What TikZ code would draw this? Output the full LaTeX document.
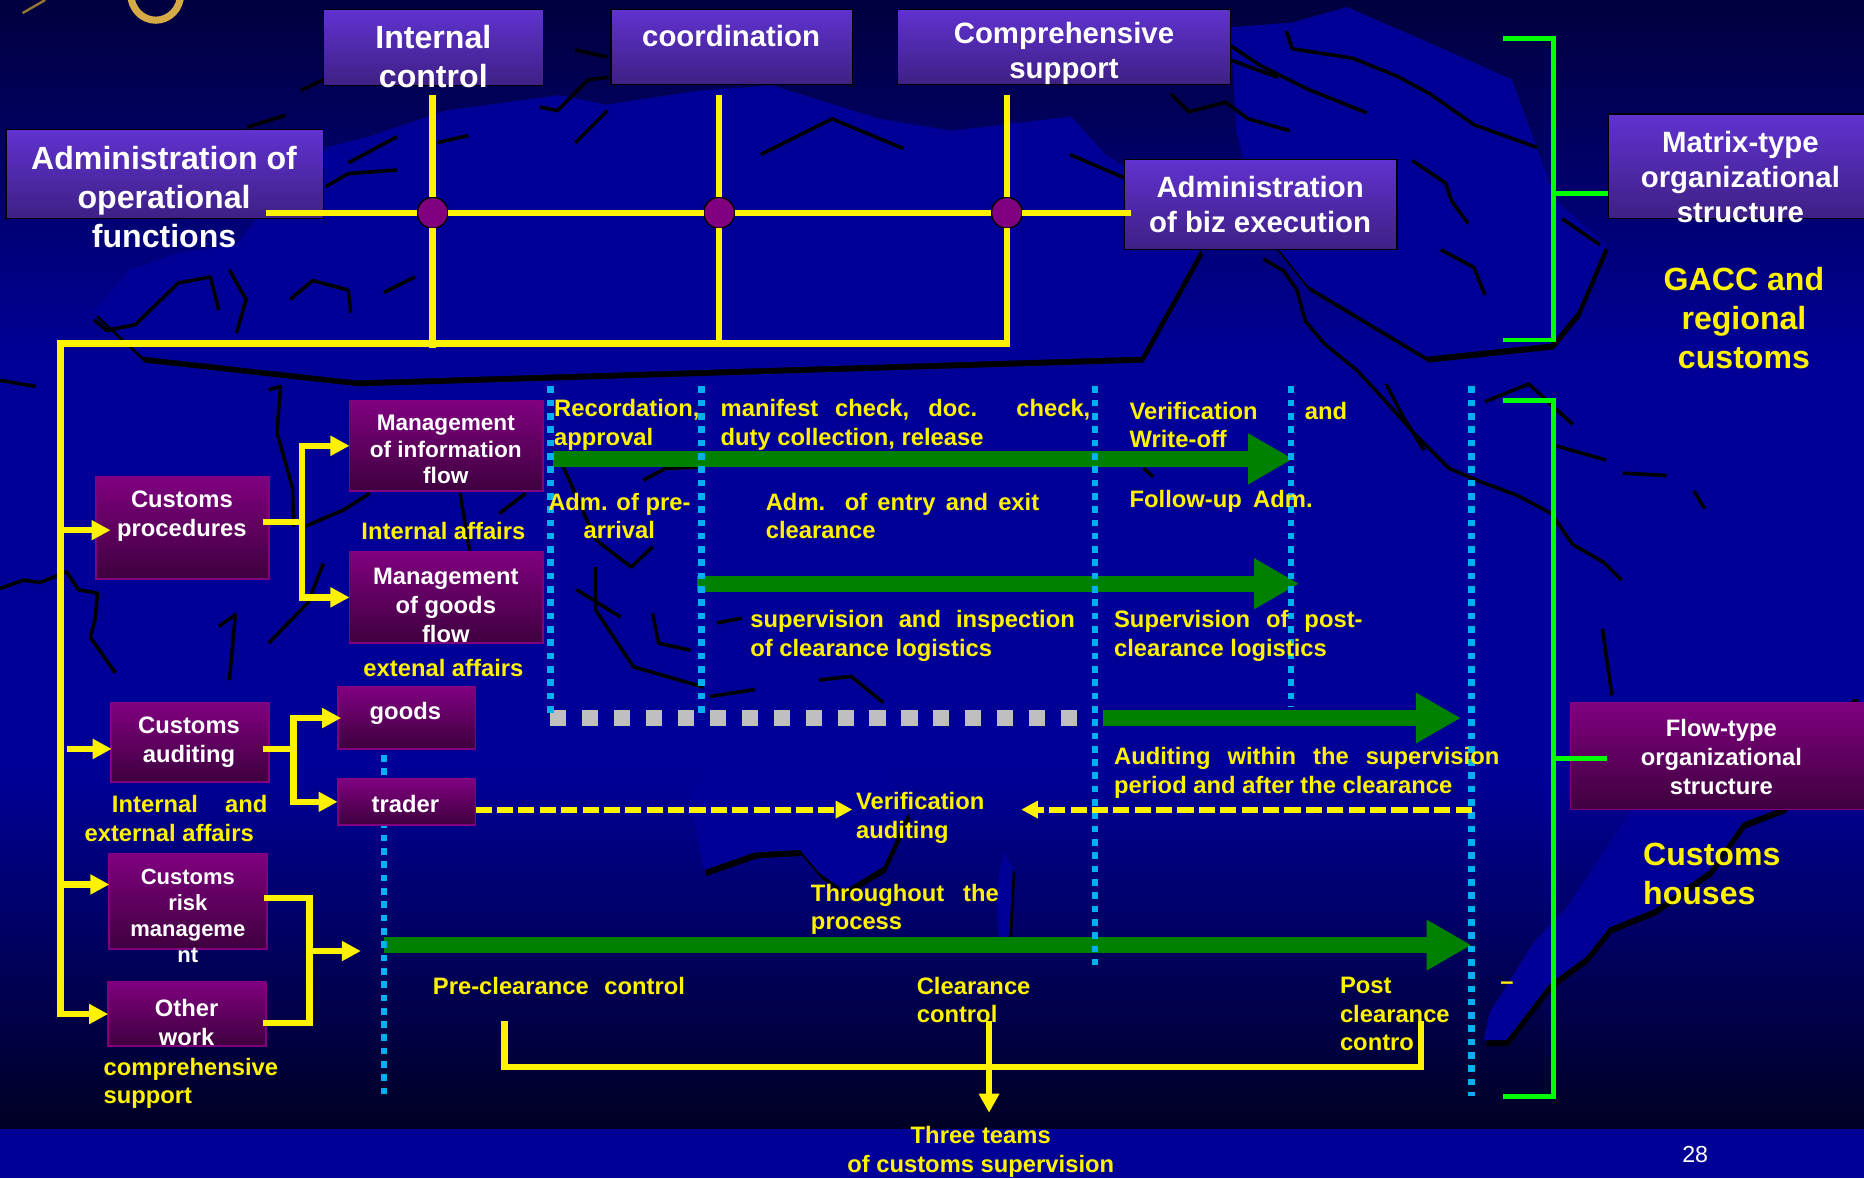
\documentclass[tikz,border=0pt]{standalone}
\usepackage{fontspec}
\setmainfont{Liberation Sans}
\usepackage{tikz}
\usetikzlibrary{arrows.meta}

\definecolor{bgdark}{RGB}{0,0,62}
\definecolor{bgmid}{RGB}{0,0,150}
\definecolor{bgfoot}{RGB}{0,0,36}
\definecolor{bluetop}{RGB}{96,50,208}
\definecolor{bluebot}{RGB}{62,32,132}
\definecolor{purptop}{RGB}{128,0,128}
\definecolor{purpbot}{RGB}{62,0,62}
\definecolor{dotblue}{RGB}{0,176,240}
\definecolor{ringgold}{RGB}{214,170,70}
\definecolor{darkgreen}{RGB}{0,128,0}
\definecolor{lightgreen}{RGB}{0,255,0}

\newcommand{\landshape}[1]{\fill[black,shift={(2,5)}] #1; \fill[bgmid] #1;}

\begin{document}
\begin{tikzpicture}[x=1pt,y=-1pt,
    boxblue/.style={draw=black,line width=1.2pt,top color=bluetop,bottom color=bluebot,inner sep=0pt,outer sep=0pt},
    boxpurp/.style={draw=purptop,line width=1.5pt,top color=purptop,bottom color=purpbot,inner sep=0pt,outer sep=0pt},
    junction/.style={circle,draw=black,line width=1.2pt,fill=purptop,minimum size=26pt,inner sep=0pt,outer sep=0pt},
    yline/.style={draw=yellow,line width=5.5pt},
    yarrow/.style={yline,-{Triangle[length=16pt,width=16pt]}},
    ydash/.style={draw=yellow,line width=5pt,dash pattern=on 13.5pt off 4.5pt,-{Triangle[length=14pt,width=14pt]}},
    garrow/.style={draw=darkgreen,line width=13.5pt,-{Triangle[length=38pt,width=40pt]}},
    bluedots/.style={draw=dotblue,line width=5.5pt,dash pattern=on 5.6pt off 5.6pt},
    greydash/.style={draw=black!25,line width=14pt,dash pattern=on 13.5pt off 13.4pt},
    gline/.style={draw=lightgreen,line width=4.2pt},
    coast/.style={draw=black,line width=3pt,line join=round},
    wbig/.style={text=white,align=center,inner sep=0pt,font=\fontsize{27}{32.7}\selectfont\bfseries},
    wmid/.style={text=white,align=center,inner sep=0pt,font=\fontsize{24.7}{29.3}\selectfont\bfseries},
    wsmall/.style={text=white,align=center,inner sep=0pt,font=\fontsize{20}{24.3}\selectfont\bfseries},
    ybig/.style={text=yellow,inner sep=0pt,font=\fontsize{27}{32.5}\selectfont\bfseries},
    ysmall/.style={text=yellow,align=left,inner sep=0pt,font=\fontsize{20}{24}\selectfont\bfseries}]
    \useasboundingbox (0,0) rectangle (1568,991);

    % background
    \shade[top color=bgdark,bottom color=bgmid] (0,0) rectangle (1568,300);
    \fill[bgmid] (0,300) rectangle (1568,650);
    \shade[top color=bgmid,bottom color=bgfoot] (0,650) rectangle (1568,950);
    \fill[bgmid] (0,950) rectangle (1568,991);

    % map
    \landshape{(79,262) -- (109,227) -- (150,213) -- (200,205) -- (240,150) -- (270,125) -- (310,115) -- (375,93) -- (470,80) -- (510,88) -- (589,76) -- (650,72) -- (740,100) -- (800,110) -- (901,98) -- (930,130) -- (990,170) -- (1010,210) -- (960,300) -- (300,320) -- (120,300) -- cycle}
    \landshape{(1035,23) -- (1087,19) -- (1133,6) -- (1200,35) -- (1272,67) -- (1293,124) -- (1310,170) -- (1351,206) -- (1327,262) -- (1305,289) -- (1200,300) -- (1100,240) -- (1060,190) -- (1040,110) -- cycle}
    \landshape{(624,611) -- (710,611) -- (753,656) -- (764,684) -- (743,729) -- (710,749) -- (689,734) -- (673,715) -- (635,717) -- (592,732) -- (579,664) -- cycle}
    \landshape{(844,717) -- (852,730) -- (849,788) -- (840,790) -- (838,750) -- cycle}
    \landshape{(1349,555) -- (1357,583) -- (1562,583) -- (1500,679) -- (1466,692) -- (1438,732) -- (1391,765) -- (1354,780) -- (1334,805) -- (1304,827) -- (1267,875) -- (1248,875) -- (1253,852) -- (1290,793) -- (1318,763) -- (1346,721) -- (1374,679) -- cycle}

    % coast lines
    \draw[coast] (1063,218) -- (1080,228) -- (1091,244) -- (1098,270) -- (1114,289) -- (1142,312) -- (1166,338) -- (1190,365) -- (1219,394) -- (1245,405) -- (1277,417) -- (1305,432) -- (1323,458) -- (1349,473) -- (1364,488);
    \draw[coast] (1166,323) -- (1180,350) -- (1198,379);
    \draw[coast] (1082,26) -- (1087,41) -- (1138,49) -- (1175,64) -- (1203,79) -- (1240,105) -- (1293,124);
    \draw[coast] (985,79) -- (1000,94) -- (1031,86) -- (1050,100) -- (1085,110);
    \draw[coast] (1188,135) -- (1216,154) -- (1221,169) -- (1235,188);
    \draw[coast] (1212,210) -- (1240,225) -- (1249,248);
    \draw[coast] (1314,184) -- (1346,206);
    \draw[coast] (1030,35) -- (1060,55) -- (1100,75) -- (1150,95);
    \draw[coast] (0,495) -- (20,488) -- (34,490) -- (56,481) -- (66,496) -- (82,499) -- (80,521) -- (76,536) -- (97,566);
    \draw[coast] (226,328) -- (236,325) -- (233,364) -- (246,410) -- (247,443);
    \draw[coast] (256,443) -- (289,429) -- (311,415);
    \draw[coast] (387,415) -- (395,463);
    \draw[coast] (420,432) -- (442,415);
    \draw[coast] (184,527) -- (198,517) -- (193,572);
    \draw[coast] (226,541) -- (259,507) -- (272,474);
    \draw[coast] (501,477) -- (501,513) -- (533,561) -- (592,578);
    \draw[coast] (485,496) -- (522,519);
    \draw[coast] (474,393) -- (501,454) -- (531,477) -- (549,460);
    \draw[coast] (541,404) -- (560,394) -- (587,393);
    \draw[coast] (549,516) -- (554,541) -- (581,547);
    \draw[coast] (603,524) -- (624,520);
    \draw[coast] (689,572) -- (716,569) -- (743,591);
    \draw[coast] (597,586) -- (635,580);
    \draw[coast] (962,394) -- (970,401);
    \draw[coast] (1309,375) -- (1351,387);
    \draw[coast] (1365,398) -- (1402,400);
    \draw[coast] (1425,413) -- (1434,428);
    \draw[coast] (1348,529) -- (1356,585);
    \draw[coast] (1249,338) -- (1286,323) -- (1323,357);
    \draw[coast] (293,137) -- (334,115);
    \draw[coast] (274,157) -- (293,146) -- (334,143);
    \draw[coast] (368,120) -- (394,114);
    \draw[coast] (79,269) -- (90,278) -- (114,273) -- (150,238) -- (177,233) -- (184,261);
    \draw[coast] (193,227) -- (207,252) -- (199,280);
    \draw[coast] (244,252) -- (263,236) -- (293,244) -- (295,263);
    \draw[coast] (323,246) -- (349,233);
    \draw[coast] (484,120) -- (511,93);
    \draw[coast] (454,90) -- (469,93) -- (495,67) -- (512,65);
    \draw[coast] (484,42) -- (511,48);
    \draw[coast] (272,67) -- (253,76);
    \draw[coast] (208,107) -- (240,97);
    \draw[coast] (0,320) -- (30,325);
    \draw[coast] (1020,45) -- (1075,65);
    \draw[coast] (900,130) -- (970,160) -- (985,200);
    \draw[coast] (640,130) -- (700,100) -- (760,125);

    % ring
    \draw[ringgold,line width=6pt] (131,-5) ellipse (21 and 22);
    \draw[ringgold!70!black,line width=2pt] (19,11) -- (38,0);

    % green arrows and dotted rows
    \coordinate (rowa) at (465,386);
    \coordinate (rowatip) at (1088,386);
    \coordinate (rowb) at (586,491);
    \coordinate (rowbtip) at (1093,491);
    \coordinate (rowc) at (928,604);
    \coordinate (rowctip) at (1229,604);
    \coordinate (rowd) at (323,795);
    \coordinate (rowdtip) at (1238,795);
    \draw[garrow] (rowa) -- (rowatip);
    \draw[garrow] (rowb) -- (rowbtip);
    \draw[garrow] (rowc) -- (rowctip);
    \draw[garrow] (rowd) -- (rowdtip);
    \draw[greydash] (462.4,604) -- (907,604);
    \draw[bluedots] (463,325) -- (463,600);
    \draw[bluedots] (590,325) -- (590,605);
    \draw[bluedots] (921,325) -- (921,812);
    \draw[bluedots] (1086,325) -- (1086,595);
    \draw[bluedots] (1238,325) -- (1238,922);
    \draw[bluedots] (323,635) -- (323,921);

    % boxes
    \node[boxblue,minimum width=185pt,minimum height=64pt] (intbox) at (364.5,40) {};
    \node[boxblue,minimum width=203pt,minimum height=63pt] (coordbox) at (615.5,39.5) {};
    \node[boxblue,minimum width=280pt,minimum height=63pt] (compbox) at (895,39.5) {};
    \node[boxblue,minimum width=267pt,minimum height=75pt] (admopbox) at (138.5,146.5) {};
    \node[boxblue,minimum width=229pt,minimum height=76pt] (admbizbox) at (1060.5,172) {};
    \node[boxblue,minimum width=222pt,minimum height=88pt] (matrixbox) at (1464,140) {};
    \node[boxpurp,minimum width=254pt,minimum height=90pt] (flowbox) at (1448,636) {};
    \node[boxpurp,minimum width=145pt,minimum height=86pt] (cpbox) at (153.5,444) {};
    \node[boxpurp,minimum width=163pt,minimum height=76pt] (mifbox) at (375.5,375) {};
    \node[boxpurp,minimum width=163pt,minimum height=77pt] (mgfbox) at (375.5,502.5) {};
    \node[boxpurp,minimum width=132.6pt,minimum height=67pt] (cabox) at (159.7,624.5) {};
    \node[boxpurp,minimum width=116pt,minimum height=52pt] (goodsbox) at (342,604) {};
    \node[boxpurp,minimum width=116pt,minimum height=39pt] (traderbox) at (342,674.5) {};
    \node[boxpurp,minimum width=132.6pt,minimum height=80pt] (riskbox) at (158.3,758) {};
    \node[boxpurp,minimum width=133pt,minimum height=54pt] (otherbox) at (157.5,853) {};

    \node[junction] (jint) at (364,179) {};
    \node[junction] (jcoord) at (605,179) {};
    \node[junction] (jcomp) at (847,179) {};

    % yellow matrix
    \coordinate (opstub) at (224,179);
    \coordinate (bizstub) at (951,179);
    \coordinate (inttop) at (364,80);
    \coordinate (coordtop) at (605,80);
    \coordinate (comptop) at (847,80);
    \coordinate (leftcorner) at (51,289);
    \draw[yline] (opstub) -- (jint.west);
    \draw[yline] (jint.east) -- (jcoord.west);
    \draw[yline] (jcoord.east) -- (jcomp.west);
    \draw[yline] (jcomp.east) -- (bizstub);
    \draw[yline] (inttop) -- (jint.north);
    \draw[yline] (coordtop) -- (jcoord.north);
    \draw[yline] (comptop) -- (jcomp.north);
    \draw[yline] (jint.south) -- (364,293);
    \draw[yline] (jcoord.south) -- (605,291);
    \draw[yarrow] (jcomp.south) |- (leftcorner) |- (otherbox.west);

    \coordinate (cptip) at (93,446);
    \coordinate (catail) at (56,630);
    \coordinate (catip) at (94,630);
    \coordinate (risktip) at (92,744);
    \draw[yarrow] (leftcorner |- cptip) -- (cptip);
    \draw[yarrow] (catail) -- (catip);
    \draw[yarrow] (leftcorner |- risktip) -- (risktip);

    \coordinate (cpstub) at (221,439);
    \coordinate (cpjoin) at (254,439);
    \draw[yline] (cpstub) -- (cpjoin);
    \draw[yarrow] (cpjoin) |- (mifbox.west);
    \draw[yarrow] (cpjoin) |- (mgfbox.west);

    \coordinate (castub) at (221,630);
    \coordinate (cajoin) at (247,630);
    \coordinate (goodstip) at (287,604);
    \draw[yline] (castub) -- (cajoin);
    \draw[yarrow] (cajoin) |- (goodstip);
    \draw[yarrow] (cajoin) |- (traderbox.west);

    \coordinate (riskstub) at (222,755.5);
    \coordinate (otherstub) at (221,860.5);
    \coordinate (ctrljoin) at (260.5,800);
    \coordinate (ctrltip) at (303.6,800);
    \draw[yline] (riskstub) -| (ctrljoin) |- (otherstub);
    \draw[yarrow] (ctrljoin) -- (ctrltip);

    \coordinate (verifin) at (717,681);
    \coordinate (verifback) at (859,681);
    \coordinate (postdash) at (1238,681);
    \draw[ydash] (traderbox.east |- verifin) -- (verifin);
    \draw[ydash] (postdash) -- (verifback);

    \coordinate (preteam) at (424.5,859);
    \coordinate (midteam) at (832,859);
    \coordinate (postteam) at (1195.5,859);
    \coordinate (teambar) at (832,897.5);
    \coordinate (teamtip) at (832,936);
    \draw[yline] (preteam) |- (postteam |- teambar) -- (postteam);
    \draw[draw=yellow,line width=5pt,-{Triangle[length=16pt,width=16.5pt]}] (midteam) -- (teamtip);

    % green brackets
    \coordinate (bratop) at (1264,32);
    \coordinate (brabot) at (1264,286);
    \coordinate (brbtop) at (1264,337);
    \coordinate (brbbot) at (1264,922);
    \coordinate (braside) at (1307,162.6);
    \coordinate (brbside) at (1307,638);
    \draw[gline] (bratop) -| (braside) |- (brabot);
    \draw[gline] (brbtop) -| (brbside) |- (brbbot);
    \draw[gline] (braside) -- (matrixbox.west |- braside);
    \draw[gline] (brbside) -- (flowbox.west |- brbside) -- ++(31,0);

    % white labels
    \node[wbig] (inttext) at (364.5,47.5) {Internal\\control};
    \node[wmid] (coordtext) at (615,30) {coordination};
    \node[wmid] (comptext) at (895,45) {Comprehensive\\support};
    \node[wbig] (admoptext) at (138,166) {Administration of\\operational\\functions};
    \node[wmid] (admbiztext) at (1060,172) {Administration\\of biz execution};
    \node[wmid] (matrixtext) at (1464,149) {Matrix-type\\organizational\\structure};
    \node[wsmall] (flowtext) at (1448,636.5) {Flow-type\\organizational\\structure};
    \node[wsmall] (cptext) at (153,434) {Customs\\procedures};
    \node[wsmall,font=\fontsize{19}{22}\selectfont\bfseries] (miftext) at (375,378) {Management\\of information\\flow};
    \node[wsmall] (mgftext) at (375,509.5) {Management\\of goods\\flow};
    \node[wsmall] (catext) at (159,624.5) {Customs\\auditing};
    \node[wsmall] (goodstext) at (341,600) {goods};
    \node[wsmall] (tradertext) at (341,676) {trader};
    \node[wsmall,font=\fontsize{18.5}{21.7}\selectfont\bfseries] (risktext) at (158,770.5) {Customs\\risk\\manageme\\nt};
    \node[wsmall] (othertext) at (157,860) {Other\\work};
    \node[text=white,inner sep=0pt,font=\fontsize{19.5}{24}\selectfont] (pagenum) at (1426,971) {28};

    % yellow labels
    \node[ybig,align=center] (gacctext) at (1467,267.5) {GACC and\\regional\\customs};
    \node[ybig,align=left,anchor=west] (housetext) at (1382,735) {Customs\\houses};
    \node[ysmall,align=center] (intaff) at (373,447) {Internal affairs};
    \node[ysmall,align=center] (extaff) at (373,562) {extenal affairs};
    \node[ysmall,anchor=west] (inextaff) at (71,688.5) {\hspace*{23pt}Internal\hspace{23pt}and\\external affairs};
    \node[ysmall,anchor=west] (comptxt) at (87,911.5) {comprehensive\\support};
    \node[ysmall,anchor=west] (recordtxt) at (466,357.5) {Recordation,\\approval};
    \node[ysmall,anchor=west] (manifesttxt) at (606,357.5) {\makebox[311pt][s]{manifest check, doc. check,}\\duty collection, release};
    \node[ysmall,anchor=west] (verifytxt) at (950,357.5) {\makebox[183pt][s]{Verification and}\\Write-off};
    \node[ysmall,align=center] (preadm) at (521,434) {Adm. of pre-\\arrival};
    \node[ysmall,anchor=west] (entryadm) at (644,434) {\makebox[230pt][s]{Adm. of entry and exit}\\clearance};
    \node[ysmall,anchor=west] (followadm) at (950,422) {\makebox[154pt][s]{Follow-up Adm.}};
    \node[ysmall,anchor=west] (supervtxt) at (631,535) {\makebox[273pt][s]{supervision and inspection}\\of clearance logistics};
    \node[ysmall,anchor=west] (postsuper) at (937,535) {\makebox[209pt][s]{Supervision of post-}\\clearance logistics};
    \node[ysmall,anchor=west] (audittxt) at (937,650) {\makebox[324pt][s]{Auditing within the supervision}\\period and after the clearance};
    \node[ysmall,anchor=west] (veriftxt) at (720,688) {Verification\\auditing};
    \node[ysmall,anchor=west] (throughtxt) at (682,765) {\makebox[158pt][s]{Throughout the}\\process};
    \node[ysmall,anchor=west] (prectrl) at (364,829) {\makebox[212pt][s]{Pre-clearance control}};
    \node[ysmall,anchor=west] (clearctrl) at (771,841) {Clearance\\control};
    \node[ysmall,anchor=west] (postctrl) at (1127,853) {Post\\clearance\\contro};
    \node[ysmall,anchor=west] (ctrldash) at (1262,829) {–};
    \node[ysmall,align=center] (teamstxt) at (825,969) {Three teams\\of customs supervision};

\end{tikzpicture}
\end{document}
